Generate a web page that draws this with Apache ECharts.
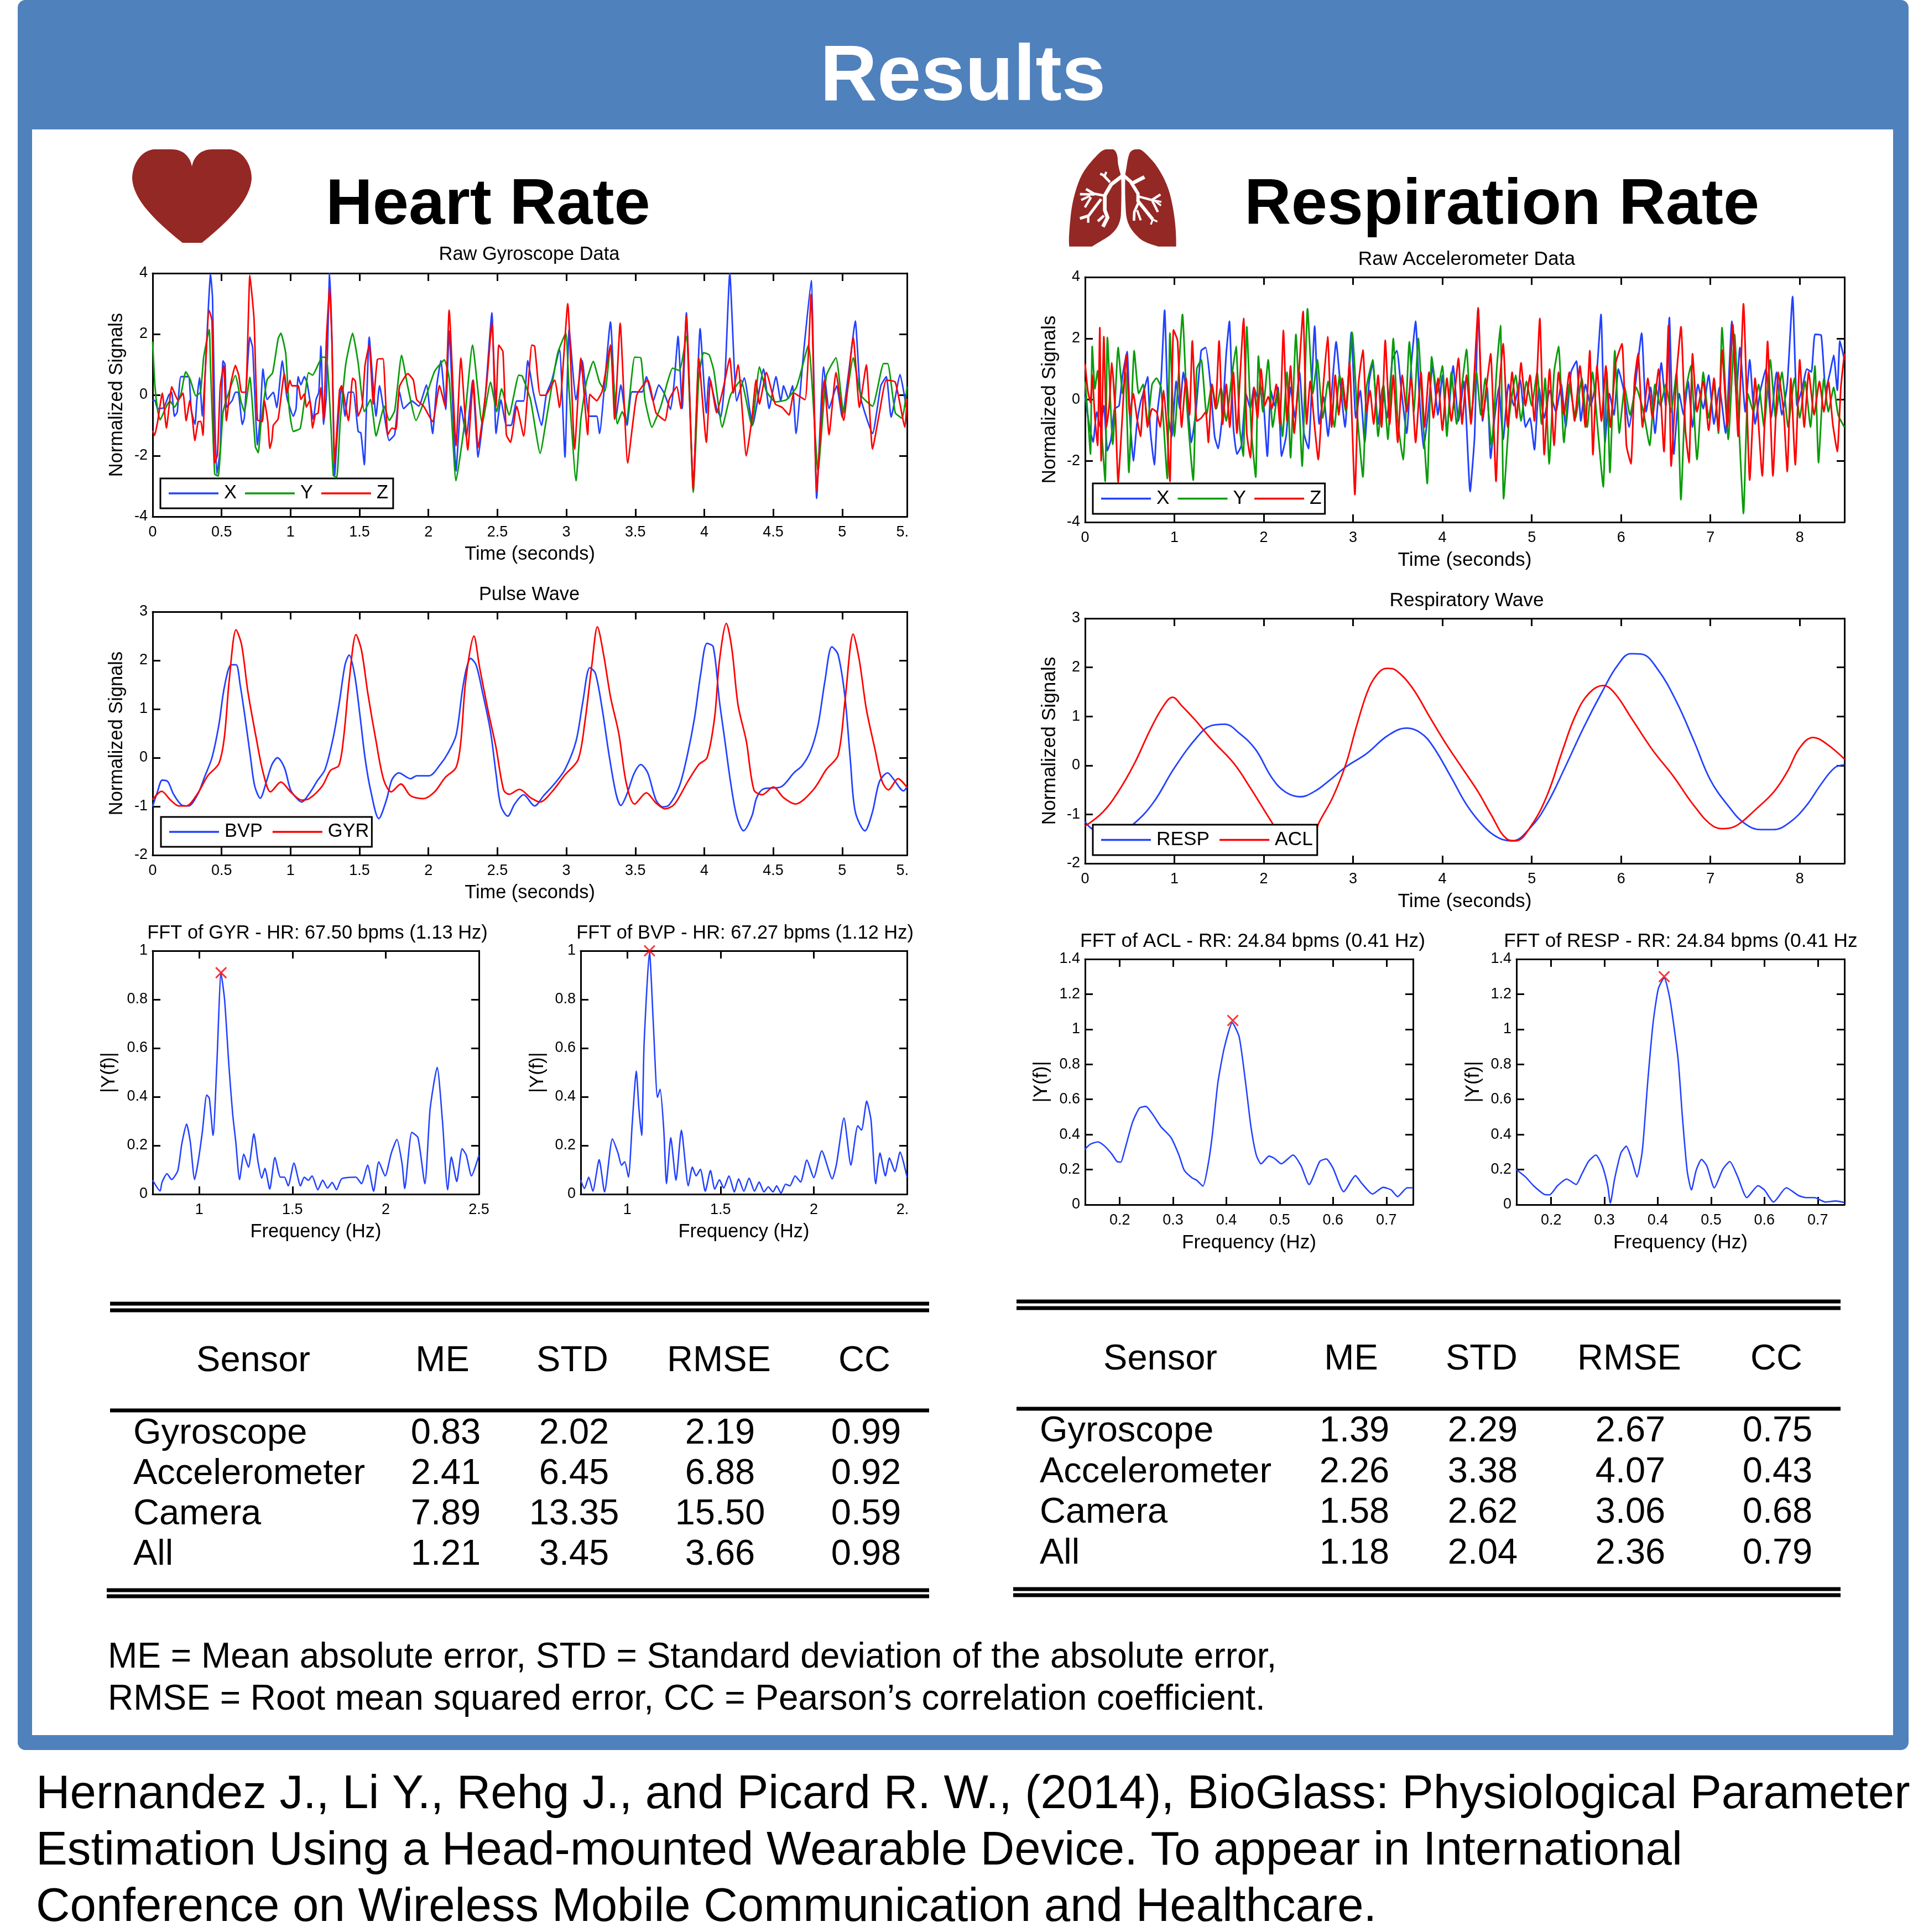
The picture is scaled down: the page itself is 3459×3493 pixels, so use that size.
<!DOCTYPE html>
<html><head><meta charset="utf-8">
<style>html,body{margin:0;padding:0;background:#fff}#c{width:3459px;height:3493px}</style>
<script src="https://cdn.jsdelivr.net/npm/echarts@6/dist/echarts.min.js"></script>
</head><body><div id="c"></div>
<script>
const gyroX=[[0,-.18],[.016,-.18],[.036,-.45],[.08,-.42],[.118,0],[.138,.09],[.158,-.7],[.178,-.57],[.205,.6],[.26,.6],[.28,-.5],[.307,-.97],[.32,-.2],[.34,.57],[.36,-.7],[.38,.63],[.42,3.97],[.434,3.2],[.45,-.57],[.465,-2.6],[.49,-1.8],[.51,1.12],[.525,1],[.537,-.4],[.577,-.18],[.6,.09],[.62,.09],[.65,-.97],[.665,-.75],[.705,1.9],[.725,1.55],[.76,-1.65],[.78,-.75],[.8,.85],[.83,-.15],[.875,.09],[.9,-.42],[.94,1.12],[.97,.03],[.98,-.2],[1.02,-.7],[1.04,-.45],[1.055,.6],[1.075,.33],[1.1,.6],[1.12,.4],[1.165,-.8],[1.185,-.15],[1.205,.09],[1.22,1.6],[1.24,-.97],[1.26,.03],[1.283,4],[1.3,1.85],[1.32,-2.65],[1.34,-1.2],[1.37,.3],[1.395,-.7],[1.42,.09],[1.455,.09],[1.49,-1.2],[1.51,-1.25],[1.535,-2.3],[1.55,-.5],[1.57,1.9],[1.62,-.7],[1.645,.3],[1.715,-1.5],[1.755,-1.3],[1.79,.1],[1.82,-.45],[1.88,-.2],[1.93,-.37],[1.985,.33],[2.03,-1.27],[2.06,.3],[2.09,1.13],[2.125,-.48],[2.15,2.1],[2.2,-2.5],[2.235,-.37],[2.275,-1.38],[2.32,.48],[2.36,-2.05],[2.41,-.16],[2.46,2.7],[2.49,-1.27],[2.525,-.16],[2.565,-1],[2.6,-1],[2.64,-.2],[2.69,-.2],[2.72,1.13],[2.76,.1],[2.82,-1],[2.855,.02],[2.895,.48],[2.95,1.5],[2.99,-2.05],[3.02,2.15],[3.07,-.16],[3.115,1.13],[3.165,-.7],[3.22,-.7],[3.24,-1.27],[3.32,2.4],[3.36,-.73],[3.395,.33],[3.44,-1],[3.475,.1],[3.55,.1],[3.58,.6],[3.63,-.2],[3.67,.33],[3.71,.05],[3.755,-.48],[3.78,.33],[3.81,1.93],[3.84,-.45],[3.87,2.7],[3.92,-3],[3.97,2.18],[4.015,-.6],[4.035,.6],[4.09,-.45],[4.12,-.73],[4.15,.56],[4.185,4],[4.235,-.2],[4.29,.56],[4.33,-.5],[4.35,-1],[4.43,.85],[4.47,-.45],[4.52,.6],[4.555,-.2],[4.575,.3],[4.61,-.12],[4.64,.3],[4.665,-1.27],[4.72,1.39],[4.775,3.76],[4.815,-3.4],[4.865,.92],[4.905,-.45],[4.96,.3],[5,-.73],[5.05,.85],[5.095,2.43],[5.135,-.1],[5.22,-1.27],[5.28,.3],[5.32,.6],[5.355,-.73],[5.42,.67],[5.465,-.41]];
const gyroY=[[0,1.75],[.016,.33],[.036,-.5],[.054,-.82],[.097,-.4],[.125,-.2],[.158,-.4],[.205,.03],[.24,.76],[.273,.5],[.313,-.03],[.347,.09],[.37,1.24],[.41,2.15],[.42,.88],[.45,-2.6],[.475,-2.67],[.51,-.58],[.537,-.12],[.6,.64],[.64,-.2],[.665,-.55],[.705,.58],[.745,-1.7],[.766,-1.9],[.785,-.95],[.83,.5],[.87,.73],[.91,1.85],[.93,2.03],[.965,1.36],[.99,-.45],[1.02,-1.2],[1.07,-1.1],[1.1,-.2],[1.13,.73],[1.16,.65],[1.23,1.24],[1.26,1.24],[1.295,-1.2],[1.31,-2.65],[1.335,-2.7],[1.36,-.88],[1.4,1],[1.45,2.03],[1.49,1.06],[1.535,-.55],[1.58,-.15],[1.62,-1.35],[1.68,-.37],[1.715,-.84],[1.755,-.52],[1.805,1.3],[1.85,.27],[1.91,-.84],[1.985,-.01],[2.045,.78],[2.115,1.15],[2.15,.56],[2.2,-2.82],[2.255,-1.17],[2.32,1.64],[2.39,-.95],[2.45,.42],[2.495,-.55],[2.53,.2],[2.585,-.66],[2.655,.65],[2.68,.62],[2.74,-.16],[2.81,-1.92],[2.855,-.8],[2.915,.85],[2.94,1.42],[2.995,2.03],[3.02,.13],[3.07,-2.82],[3.105,-.8],[3.145,.42],[3.195,1.1],[3.24,.42],[3.28,.13],[3.32,1.64],[3.37,-.95],[3.405,-.55],[3.435,-.88],[3.495,1.24],[3.54,1.22],[3.57,-.16],[3.62,-1.06],[3.685,-.37],[3.735,.45],[3.77,.88],[3.82,.8],[3.87,1.93],[3.92,-3.2],[3.96,.56],[3.995,1.39],[4.035,1.32],[4.07,.78],[4.13,-1.06],[4.19,-.01],[4.265,.49],[4.345,-1.02],[4.4,.92],[4.45,.13],[4.515,-.23],[4.595,-.16],[4.67,.27],[4.755,1.64],[4.825,-2.5],[4.885,.63],[4.955,1.22],[5.01,-.59],[5.08,1.22],[5.135,-.01],[5.22,-.37],[5.3,1.03],[5.33,1.03],[5.385,-.59],[5.435,-.77],[5.47,.27]];
const gyroZ=[[0,-1.18],[.014,-1.33],[.036,-.88],[.07,.06],[.1,-1.09],[.138,.27],[.15,.15],[.185,-.18],[.22,.06],[.243,-.85],[.27,-.18],[.288,-.76],[.306,-1.5],[.33,-.88],[.35,-.87],[.365,-1.33],[.38,.63],[.41,2.78],[.43,2.45],[.45,-2.24],[.47,-1.97],[.49,.27],[.515,.97],[.535,-.85],[.565,.33],[.6,.97],[.625,.63],[.645,.09],[.675,.09],[.705,3.93],[.735,2.5],[.76,-.82],[.795,-.88],[.81,-.18],[.835,-.88],[.85,-1.76],[.865,-1.48],[.875,-1],[.91,-.79],[.955,.7],[.975,.06],[.995,.48],[1.01,.3],[1.055,.3],[1.075,-.15],[1.1,.03],[1.115,-.4],[1.14,-.18],[1.16,-1.09],[1.18,-.64],[1.2,-.6],[1.22,.24],[1.24,-.82],[1.26,1.85],[1.283,3.5],[1.3,1.73],[1.32,-2.2],[1.355,.15],[1.37,.3],[1.42,-.85],[1.45,.55],[1.47,.45],[1.49,-.7],[1.52,-.33],[1.54,.97],[1.57,1.64],[1.6,-.3],[1.63,1.17],[1.67,1.19],[1.705,-1.31],[1.735,-1.09],[1.765,-1.13],[1.79,.27],[1.85,.7],[1.89,.49],[1.915,-.16],[1.965,-.37],[2.03,-.88],[2.08,.31],[2.12,-.37],[2.15,2.79],[2.2,-1.67],[2.235,1.21],[2.285,-1.81],[2.325,.49],[2.36,-1.74],[2.42,.27],[2.46,2.36],[2.49,-.37],[2.51,1.64],[2.54,1.42],[2.565,-1.31],[2.595,-1.56],[2.64,-.37],[2.69,-1.35],[2.75,1.64],[2.77,1.6],[2.81,-.01],[2.85,-.01],[2.915,.49],[2.95,-.41],[3.01,3],[3.06,-1.78],[3.105,1.21],[3.155,-1.31],[3.17,.02],[3.22,-.19],[3.26,.13],[3.32,1.64],[3.35,-.8],[3.39,2.36],[3.445,-2.24],[3.51,-.01],[3.59,.49],[3.65,-.59],[3.715,-.84],[3.745,-.16],[3.8,.27],[3.83,-.45],[3.87,2.58],[3.92,-3.1],[3.96,1.21],[4.015,-1.56],[4.045,.49],[4.09,-.59],[4.14,.27],[4.185,1.21],[4.21,.06],[4.245,.99],[4.305,-2],[4.345,-.8],[4.375,.49],[4.4,-.3],[4.45,.74],[4.515,-.3],[4.565,-.41],[4.615,-.66],[4.65,.06],[4.73,-.16],[4.775,3.3],[4.815,-3.14],[4.87,.49],[4.905,-1.31],[4.955,.74],[5.01,-.84],[5.08,1.89],[5.125,-.41],[5.175,.99],[5.22,-1.78],[5.27,-.59],[5.32,.49],[5.385,.42],[5.455,-1.06],[5.47,-.12]];
const pulseBVP=[[0,-1],[.035,-.7],[.07,-.46],[.11,-.49],[.15,-.74],[.21,-.97],[.26,-.99],[.325,-.76],[.38,-.37],[.43,0],[.48,.67],[.52,1.45],[.57,1.91],[.605,1.91],[.635,1.49],[.67,.83],[.71,0],[.74,-.58],[.78,-.83],[.825,-.49],[.865,-.14],[.905,0],[.955,-.2],[1,-.66],[1.04,-.82],[1.08,-.91],[1.135,-.74],[1.195,-.47],[1.25,-.24],[1.31,.42],[1.355,1.16],[1.395,1.91],[1.425,2.11],[1.465,1.7],[1.505,.83],[1.54,0],[1.58,-.66],[1.64,-1.25],[1.695,-.87],[1.735,-.45],[1.785,-.31],[1.87,-.43],[1.915,-.37],[2.005,-.37],[2.085,-.14],[2.14,.09],[2.2,.46],[2.245,1.37],[2.275,1.83],[2.305,2.04],[2.345,1.91],[2.39,1.37],[2.45,.54],[2.49,-.33],[2.525,-.99],[2.575,-1.2],[2.625,-.95],[2.69,-.76],[2.77,-.99],[2.835,-.78],[2.915,-.53],[2.99,-.24],[3.07,.34],[3.12,1.16],[3.17,1.85],[3.21,1.74],[3.26,1],[3.31,.05],[3.36,-.74],[3.395,-.98],[3.44,-.74],[3.49,-.33],[3.54,-.14],[3.59,-.31],[3.65,-.87],[3.7,-1.01],[3.745,-.97],[3.82,-.58],[3.88,.09],[3.93,.83],[3.975,1.74],[4.02,2.35],[4.065,2.28],[4.11,1.16],[4.15,.34],[4.19,-.49],[4.235,-1.2],[4.285,-1.5],[4.345,-1.2],[4.38,-.82],[4.43,-.64],[4.555,-.6],[4.65,-.31],[4.71,-.16],[4.77,.13],[4.825,.67],[4.875,1.58],[4.925,2.28],[4.97,2.12],[5.02,1.25],[5.06,-.08],[5.095,-1.11],[5.165,-1.5],[5.22,-1.11],[5.27,-.49],[5.33,-.31],[5.37,-.43],[5.445,-.68],[5.47,-.6]];
const pulseGYR=[[0,-.86],[.065,-.69],[.13,-.87],[.19,-.99],[.245,-.99],[.325,-.74],[.4,-.37],[.48,-.12],[.52,.42],[.555,1.58],[.605,2.63],[.645,2.32],[.69,1.37],[.75,.42],[.8,-.29],[.855,-.7],[.93,-.5],[1,-.7],[1.08,-.87],[1.135,-.84],[1.23,-.58],[1.29,-.26],[1.35,-.16],[1.385,.42],[1.425,1.58],[1.475,2.53],[1.515,2.2],[1.56,1.33],[1.62,.34],[1.675,-.45],[1.73,-.7],[1.8,-.54],[1.87,-.78],[1.965,-.84],[2.045,-.7],[2.12,-.41],[2.2,-.2],[2.235,.34],[2.27,1.58],[2.33,2.5],[2.37,1.87],[2.43,1],[2.49,.21],[2.545,-.66],[2.585,-.75],[2.66,-.65],[2.74,-.82],[2.81,-.91],[2.895,-.7],[2.99,-.35],[3.085,-.04],[3.135,.75],[3.185,1.91],[3.225,2.69],[3.27,2.12],[3.32,1.25],[3.38,.5],[3.435,-.53],[3.495,-.95],[3.58,-.72],[3.65,-.93],[3.715,-1.05],[3.785,-.95],[3.88,-.49],[3.96,-.14],[4.02,0],[4.075,.83],[4.11,1.99],[4.16,2.76],[4.2,2.24],[4.245,1.08],[4.305,.34],[4.36,-.66],[4.42,-.76],[4.5,-.6],[4.575,-.82],[4.66,-.95],[4.79,-.66],[4.885,-.24],[4.97,.05],[5.02,1.16],[5.08,2.54],[5.125,1.99],[5.175,1],[5.235,.21],[5.29,-.49],[5.335,-.66],[5.405,-.43],[5.47,-.61]];
const accelX=[[0,.1],[.05,-.9],[.09,-1.39],[.13,-.4],[.17,-.9],[.21,-.2],[.25,-1.67],[.29,-1.3],[.33,-.3],[.38,-.2],[.42,.8],[.47,1.57],[.5,-.5],[.54,-2],[.58,-.8],[.62,-.1],[.66,.3],[.7,.75],[.73,-1],[.775,-2.13],[.81,-.4],[.85,.6],[.89,2.92],[.93,-.5],[.97,-1.2],[1.02,.6],[1.06,-.3],[1.1,.9],[1.14,.1],[1.19,-1.4],[1.24,-.4],[1.3,1.6],[1.35,1.7],[1.4,.6],[1.45,-1.2],[1.49,-1.6],[1.54,-.4],[1.58,1.5],[1.615,2.56],[1.66,-.9],[1.7,-1.78],[1.75,-1.5],[1.8,.2],[1.85,-.3],[1.89,.4],[1.93,.05],[1.98,.4],[2.04,-1.85],[2.08,.3],[2.12,-.2],[2.16,.4],[2.2,-1.85],[2.25,-1.2],[2.3,.4],[2.35,-.6],[2.4,.9],[2.45,-1.1],[2.5,-1.6],[2.57,2.4],[2.62,-.8],[2.67,.1],[2.72,-1.2],[2.77,.6],[2.81,1.89],[2.86,.4],[2.91,-.9],[2.98,2.2],[3.03,-.6],[3.08,.3],[3.13,-1.4],[3.18,.6],[3.22,1.2],[3.28,-.8],[3.33,.4],[3.38,-.6],[3.44,1.3],[3.49,1.6],[3.54,.3],[3.6,-1.1],[3.65,1.1],[3.7,2.56],[3.74,.2],[3.79,-1.6],[3.84,-.4],[3.89,1.1],[3.95,-.5],[4,.8],[4.05,-1],[4.12,1.1],[4.18,-.7],[4.24,.6],[4.31,-3],[4.36,-1.2],[4.4,2.99],[4.45,-.7],[4.5,.4],[4.54,-1.92],[4.58,-.7],[4.63,.4],[4.68,-1.3],[4.74,.5],[4.8,-.2],[4.87,.65],[4.93,-.9],[4.98,-.6],[5.03,-1.64],[5.08,.4],[5.14,-.6],[5.2,.3],[5.27,-.4],[5.33,.5],[5.38,-.9],[5.44,.9],[5.5,1.26],[5.55,-.7],[5.6,.5],[5.66,-.2],[5.72,.6],[5.775,2.78],[5.82,-1.4],[5.87,.2],[5.92,-.5],[5.97,1],[6.03,.3],[6.09,-.9],[6.16,.5],[6.23,2.17],[6.28,-.4],[6.33,.4],[6.38,-1.1],[6.45,1.2],[6.5,-.2],[6.54,2.68],[6.59,-1.78],[6.65,.2],[6.7,-.5],[6.75,.6],[6.8,-.9],[6.86,.5],[6.92,-.3],[6.98,.8],[7.04,-.8],[7.1,.4],[7.17,-1.1],[7.24,2.56],[7.29,.2],[7.33,1.7],[7.39,-.4],[7.44,1.3],[7.5,-.8],[7.56,.3],[7.62,1],[7.68,-.6],[7.74,.9],[7.8,-.5],[7.86,.5],[7.92,3.37],[7.97,-.2],[8.03,.4],[8.08,1],[8.13,.9],[8.17,2.13],[8.24,2.1],[8.29,.3],[8.34,.9],[8.38,1.45],[8.42,.3],[8.45,1.92],[8.5,1.3]];
const accelY=[[0,.6],[.03,-.5],[.06,-1.78],[.08,1.74],[.11,.35],[.14,.95],[.18,-.8],[.225,-2.67],[.25,2.03],[.31,-1.46],[.37,1.7],[.42,.2],[.45,.9],[.49,-2.38],[.55,1.6],[.6,.2],[.65,.5],[.7,-.8],[.75,.5],[.8,.7],[.85,.4],[.92,-2.58],[.95,2.17],[1,-1.2],[1.04,.5],[1.09,2.78],[1.14,-.2],[1.21,-2.63],[1.25,1],[1.3,1.3],[1.36,-.5],[1.42,.5],[1.47,-.3],[1.52,.4],[1.58,-.7],[1.64,.7],[1.69,1.74],[1.73,-.9],[1.77,-1.85],[1.81,2.38],[1.86,-1],[1.91,-2.53],[1.94,1.42],[1.99,-.4],[2.05,1.3],[2.1,-.9],[2.16,.3],[2.21,-1.2],[2.26,.9],[2.3,-1.9],[2.36,2.13],[2.43,-2.17],[2.49,2.97],[2.55,.2],[2.6,1.3],[2.66,-.6],[2.72,.6],[2.79,-.9],[2.85,.8],[2.92,-.4],[2.99,2.2],[3.05,-.6],[3.11,-2.53],[3.15,.4],[3.22,1.3],[3.28,-1.2],[3.34,.5],[3.39,-1.3],[3.45,2],[3.5,-.7],[3.56,-1.97],[3.63,1.89],[3.68,-.4],[3.73,2],[3.78,-.5],[3.83,-2.74],[3.88,1.4],[3.94,.2],[4,1.1],[4.05,-1.2],[4.1,.9],[4.16,-.8],[4.22,.5],[4.27,1.64],[4.32,-.6],[4.38,.9],[4.43,-.5],[4.48,.7],[4.55,-1.5],[4.61,1.1],[4.65,2.42],[4.685,-3.24],[4.75,-.5],[4.82,.8],[4.88,-.7],[4.94,.6],[5,-.2],[5.06,.9],[5.11,-.8],[5.15,.7],[5.195,-2.1],[5.25,.9],[5.3,1.74],[5.36,-1.4],[5.42,.5],[5.49,-.6],[5.56,.7],[5.62,-.9],[5.68,.9],[5.74,-1],[5.8,-2.85],[5.84,.9],[5.875,-2.38],[5.93,1.6],[5.98,-1.1],[6.04,.4],[6.1,-.5],[6.17,.4],[6.25,-.4],[6.32,-1.5],[6.38,.5],[6.44,-.2],[6.5,.5],[6.56,-.4],[6.62,.9],[6.67,-3.27],[6.72,.2],[6.78,1.1],[6.85,-1.96],[6.92,.9],[6.98,-.6],[7.04,.5],[7.09,-1.1],[7.13,2.35],[7.2,-1.3],[7.27,2.13],[7.32,-.9],[7.37,-3.72],[7.42,.2],[7.48,-.4],[7.54,.5],[7.6,-.9],[7.67,1.3],[7.73,-.6],[7.8,.9],[7.87,-.9],[7.94,.7],[8,-.6],[8.06,.6],[8.12,-.9],[8.17,1.1],[8.21,-2.06],[8.27,.7],[8.32,-.4],[8.38,.4],[8.43,-.5],[8.5,-.9]];
const accelZ=[[0,1.17],[.03,.3],[.06,-.1],[.08,.8],[.11,-.6],[.14,-1.5],[.165,2.35],[.18,-2],[.21,2.06],[.24,-.9],[.27,-.2],[.3,1.2],[.34,-.5],[.37,-2.7],[.41,-.9],[.46,1.46],[.5,-.5],[.54,.2],[.58,-.6],[.62,-1.2],[.66,.35],[.7,-.9],[.75,-.3],[.8,-.4],[.84,-.9],[.88,.3],[.92,-1.1],[.95,-2.67],[.99,2.28],[1.035,1.92],[1.08,-.9],[1.13,.7],[1.17,-.5],[1.2,1.92],[1.25,-.7],[1.3,-.6],[1.35,-.4],[1.38,-1.4],[1.42,.5],[1.46,-.3],[1.5,1.92],[1.54,-.8],[1.58,.5],[1.62,-.9],[1.66,.9],[1.7,-1.1],[1.73,.5],[1.765,2.31],[1.775,2.65],[1.81,-1.1],[1.85,-1.9],[1.89,.4],[1.93,-.6],[1.97,1],[2.01,-.2],[2.05,.1],[2.09,-.3],[2.14,.5],[2.18,-.8],[2.22,2.26],[2.26,-.7],[2.3,1.1],[2.34,-1.1],[2.39,.7],[2.44,2.88],[2.48,-.8],[2.52,.6],[2.57,-.9],[2.61,-1.96],[2.66,.2],[2.715,2.06],[2.76,-.9],[2.8,.8],[2.84,-.5],[2.88,.7],[2.92,-.3],[2.96,1.2],[3.02,-3.1],[3.06,.5],[3.11,1.62],[3.15,-.4],[3.19,.3],[3.23,-.8],[3.28,.8],[3.32,-.9],[3.36,1.94],[3.41,-.8],[3.45,.8],[3.5,-1.4],[3.55,.8],[3.6,-.4],[3.65,.7],[3.7,-1.4],[3.76,.9],[3.8,-.9],[3.85,.9],[3.9,-.6],[3.95,.7],[4,-1],[4.05,.7],[4.1,-.7],[4.18,1.35],[4.22,-.8],[4.27,.8],[4.32,-.8],[4.36,1],[4.4,3],[4.45,-.6],[4.5,.6],[4.54,1.5],[4.6,-2.67],[4.64,.5],[4.68,1.83],[4.73,-.9],[4.78,.9],[4.83,-.6],[4.88,1.2],[4.93,-.2],[4.98,.8],[5.03,-.7],[5.09,2.65],[5.14,-1.8],[5.2,1],[5.25,-1.5],[5.3,.9],[5.36,-.5],[5.42,.9],[5.48,-.7],[5.54,1.1],[5.6,-.9],[5.65,1.6],[5.685,-1.8],[5.73,1.1],[5.78,-.7],[5.83,1.1],[5.88,-.9],[5.94,1.2],[6.01,1.83],[6.06,-1.5],[6.11,-2.1],[6.15,.6],[6.19,1.51],[6.24,-.9],[6.3,.7],[6.35,-.6],[6.42,1],[6.48,-1.7],[6.53,2.42],[6.56,-2.17],[6.62,.8],[6.67,2.38],[6.72,-1],[6.76,-2.06],[6.8,1.5],[6.85,-.4],[6.92,.6],[6.98,-1],[7.04,.7],[7.09,-1],[7.13,1.62],[7.19,-.9],[7.25,2.45],[7.31,-1.2],[7.37,3.13],[7.44,-2.63],[7.5,.7],[7.58,-2.49],[7.64,1.9],[7.7,-2.49],[7.76,.9],[7.82,-.4],[7.86,-2.35],[7.9,.7],[7.95,-2.13],[8,1.3],[8.05,-.9],[8.1,.9],[8.16,-.5],[8.22,.6],[8.27,-.4],[8.32,.6],[8.37,-.8],[8.42,-1.7],[8.46,.4],[8.5,1.5]];
const respRESP=[[0,-1.15],[.08,-1.3],[.3,-1.5],[.54,-1.2],[.76,-.77],[1,-.05],[1.26,.59],[1.41,.81],[1.56,.84],[1.73,.65],[1.91,.32],[2.09,-.25],[2.24,-.54],[2.41,-.64],[2.56,-.54],[2.74,-.3],[2.92,-.03],[3.15,.24],[3.39,.61],[3.6,.76],[3.75,.67],[3.89,.4],[4.1,-.25],[4.28,-.83],[4.46,-1.24],[4.63,-1.48],[4.78,-1.54],[4.99,-1.26],[5.17,-.79],[5.37,-.05],[5.58,.77],[5.79,1.51],[5.96,2.04],[6.11,2.28],[6.23,2.27],[6.41,1.96],[6.62,1.3],[6.82,.48],[7,-.3],[7.21,-.85],[7.38,-1.18],[7.56,-1.31],[7.71,-1.31],[7.89,-1.16],[8.07,-.83],[8.24,-.38],[8.39,-.05],[8.5,.01]];
const respACL=[[0,-1.24],[.2,-.95],[.37,-.54],[.55,.03],[.73,.73],[.88,1.22],[.98,1.39],[1.08,1.22],[1.23,.93],[1.44,.48],[1.67,.03],[1.85,-.46],[2.09,-1.16],[2.27,-1.65],[2.5,-1.65],[2.62,-1.16],[2.77,-.66],[2.92,.03],[3.04,.81],[3.18,1.59],[3.3,1.92],[3.39,1.98],[3.48,1.94],[3.66,1.59],[3.86,.98],[4.04,.44],[4.22,-.05],[4.4,-.54],[4.54,-.99],[4.72,-1.5],[4.82,-1.54],[4.99,-1.24],[5.17,-.62],[5.34,.28],[5.49,1.02],[5.64,1.47],[5.8,1.63],[5.93,1.47],[6.11,.98],[6.35,.32],[6.58,-.21],[6.82,-.83],[7.03,-1.24],[7.16,-1.29],[7.3,-1.22],[7.5,-.91],[7.71,-.54],[7.86,-.13],[8,.36],[8.15,.57],[8.3,.44],[8.5,.13]];
const fftGYR=[[.75,.057],[.79,.013],[.8,.048],[.827,.084],[.852,.06],[.885,.097],[.906,.205],[.932,.288],[.952,.214],[.975,.06],[.994,.133],[1.017,.259],[1.04,.407],[1.054,.394],[1.074,.241],[1.094,.528],[1.117,.906],[1.136,.798],[1.159,.528],[1.179,.331],[1.196,.214],[1.216,.06],[1.239,.164],[1.264,.111],[1.293,.248],[1.315,.133],[1.335,.066],[1.352,.106],[1.378,.021],[1.406,.151],[1.435,.07],[1.457,.07],[1.477,.034],[1.508,.128],[1.543,.034],[1.563,.07],[1.585,.057],[1.605,.075],[1.636,.018],[1.662,.057],[1.688,.025],[1.713,.048],[1.736,.018],[1.764,.063],[1.84,.07],[1.87,.043],[1.903,.119],[1.935,.012],[1.963,.133],[1.997,.075],[2.03,.169],[2.06,.225],[2.088,.124],[2.102,.023],[2.14,.254],[2.173,.232],[2.21,.043],[2.238,.349],[2.276,.521],[2.304,.304],[2.332,.018],[2.352,.153],[2.381,.052],[2.41,.187],[2.432,.16],[2.46,.075],[2.5,.16]];
const fftBVP=[[.75,.057],[.77,.023],[.793,.07],[.815,.012],[.849,.142],[.878,.009],[.92,.227],[.95,.169],[.969,.119],[.986,.133],[1.006,.07],[1.026,.286],[1.048,.506],[1.0625,.349],[1.077,.241],[1.09,.618],[1.119,.995],[1.139,.708],[1.162,.398],[1.176,.431],[1.196,.259],[1.21,.043],[1.233,.232],[1.261,.057],[1.29,.263],[1.327,.034],[1.349,.111],[1.369,.075],[1.392,.102],[1.418,.012],[1.446,.097],[1.469,.021],[1.494,.059],[1.517,.025],[1.545,.075],[1.574,.009],[1.597,.063],[1.625,.012],[1.653,.066],[1.682,.012],[1.707,.05],[1.733,.009],[1.756,.03],[1.781,.009],[1.801,.034],[1.824,.004],[1.849,.041],[1.872,.034],[1.9,.075],[1.929,.05],[1.963,.14],[2,.068],[2.043,.178],[2.099,.063],[2.122,.124],[2.162,.313],[2.199,.119],[2.236,.281],[2.256,.263],[2.284,.382],[2.307,.304],[2.332,.043],[2.355,.169],[2.384,.075],[2.406,.149],[2.435,.093],[2.463,.173],[2.5,.07]];
const fftACL=[[.134,.314],[.145,.345],[.159,.358],[.172,.333],[.185,.289],[.195,.246],[.202,.243],[.209,.308],[.224,.47],[.237,.551],[.249,.56],[.262,.514],[.277,.445],[.296,.383],[.311,.283],[.321,.196],[.336,.152],[.344,.14],[.356,.106],[.366,.233],[.374,.408],[.384,.695],[.396,.894],[.411,1.037],[.424,.956],[.436,.695],[.446,.445],[.456,.283],[.465,.233],[.48,.277],[.49,.264],[.503,.233],[.525,.283],[.54,.221],[.555,.115],[.575,.246],[.587,.261],[.6,.208],[.62,.074],[.642,.165],[.654,.121],[.674,.061],[.694,.099],[.709,.084],[.721,.046],[.739,.096],[.75,.096]];
const fftRESP=[[.134,.202],[.152,.158],[.167,.108],[.187,.059],[.197,.056],[.212,.108],[.229,.146],[.247,.115],[.257,.171],[.27,.246],[.284,.283],[.296,.221],[.306,.108],[.311,.009],[.319,.146],[.331,.296],[.341,.333],[.351,.258],[.361,.158],[.371,.308],[.381,.695],[.391,1.031],[.401,1.231],[.412,1.293],[.423,1.168],[.438,.832],[.446,.507],[.455,.196],[.463,.084],[.472,.196],[.482,.258],[.492,.221],[.506,.096],[.522,.202],[.535,.246],[.55,.158],[.567,.04],[.588,.108],[.6,.084],[.617,.015],[.641,.096],[.664,.052],[.679,.04],[.694,.04],[.714,.015],[.734,.021],[.75,.012]];
const peakGYR=[1.117,.91],peakBVP=[1.119,1],peakACL=[.412,1.05],peakRESP=[.412,1.3];
const tickHalf=[0,.5,1,1.5,2,2.5,3,3.5,4,4.5,5];
const tickWhole=[0,1,2,3,4,5,6,7,8];
const tickFreqHR=[1,1.5,2,2.5];
const tickFreqRR=[.2,.3,.4,.5,.6,.7];
const sensors=['Gyroscope','Accelerometer','Camera','All'];
const headers=['Sensor','ME','STD','RMSE','CC'];
const hrRows=[['0.83','2.02','2.19','0.99'],['2.41','6.45','6.88','0.92'],['7.89','13.35','15.50','0.59'],['1.21','3.45','3.66','0.98']];
const rrRows=[['1.39','2.29','2.67','0.75'],['2.26','3.38','4.07','0.43'],['1.58','2.62','3.06','0.68'],['1.18','2.04','2.36','0.79']];
const footnotes=['ME = Mean absolute error, STD = Standard deviation of the absolute error,','RMSE = Root mean squared error, CC = Pearson\u2019s correlation coefficient.'];
const citation=['Hernandez J., Li Y., Rehg J., and Picard R. W., (2014), BioGlass: Physiological Parameter','Estimation Using a Head-mounted Wearable Device. To appear in International','Conference on Wireless Mobile Communication and Healthcare.'];

const FONT='"Liberation Sans", Arial, sans-serif';
const BLUE='#2342ff',GREEN='#0a9c0a',RED='#ff0000',BAND='#4f81bd',ORGAN='#942825';
const SL=34.4,SR=35.3;
const panels=[
 {title:'Raw Gyroscope Data',tx:957,ty:461,fs:SL,L:276,R:1640,T:494,B:934,xmin:0,xmax:5.47,xstep:tickHalf,clip:[5.437,'5.'],ymin:-4,ymax:4,yint:2,xname:'Time (seconds)',yname:'Normalized Signals',nameY:47,lw:2.8,
  lines:[['X',gyroX,BLUE],['Y',gyroY,GREEN],['Z',gyroZ,RED]],smooth:.15,legend:{left:290,top:865,gap:15,pr:9}},
 {title:'Pulse Wave',tx:957,ty:1076,fs:SL,L:276,R:1640,T:1106,B:1546,xmin:0,xmax:5.47,xstep:tickHalf,clip:[5.437,'5.'],ymin:-2,ymax:3,yint:1,xname:'Time (seconds)',yname:'Normalized Signals',nameY:47,lw:2.8,
  lines:[['BVP',pulseBVP,BLUE],['GYR',pulseGYR,RED]],smooth:.3,legend:{left:291,top:1477,gap:18,pr:5}},
 {title:'Raw Accelerometer Data',tx:2652,ty:469,fs:SR,L:1962,R:3335,T:501,B:944,xmin:0,xmax:8.5,xstep:tickWhole,ymin:-4,ymax:4,yint:2,xname:'Time (seconds)',yname:'Normalized Signals',nameY:46,lw:3,
  lines:[['X',accelX,BLUE],['Y',accelY,GREEN],['Z',accelZ,RED]],smooth:.15,legend:{left:1976,top:874,gap:15,pr:6}},
 {title:'Respiratory Wave',tx:2652,ty:1086,fs:SR,L:1962,R:3335,T:1118,B:1561,xmin:0,xmax:8.5,xstep:tickWhole,ymin:-2,ymax:3,yint:1,xname:'Time (seconds)',yname:'Normalized Signals',nameY:46,lw:2.8,
  lines:[['RESP',respRESP,BLUE],['ACL',respACL,RED]],smooth:.4,legend:{left:1976,top:1491,gap:18,pr:8}},
 {title:'FFT of GYR - HR: 67.50 bpms (1.13 Hz)',tx:574,ty:1688,fs:SL,L:276,R:866,T:1719,B:2159,xmin:.75,xmax:2.5,xstep:tickFreqHR,ymin:0,ymax:1,yint:.2,xname:'Frequency (Hz)',yname:'|Y(f)|',nameY:61,lw:2.6,
  lines:[['FFT GYR',fftGYR,BLUE]],smooth:.2,peak:peakGYR},
 {title:'FFT of BVP - HR: 67.27 bpms (1.12 Hz)',tx:1347,ty:1688,fs:SL,L:1050,R:1640,T:1719,B:2159,xmin:.75,xmax:2.5,xstep:[1,1.5,2],clip:[2.476,'2.'],ymin:0,ymax:1,yint:.2,xname:'Frequency (Hz)',yname:'|Y(f)|',nameY:60,lw:2.6,
  lines:[['FFT BVP',fftBVP,BLUE]],smooth:.2,peak:peakBVP},
 {title:'FFT of ACL - RR: 24.84 bpms (0.41 Hz)',tx:2265,ty:1702,fs:SR,L:1962,R:2555,T:1734,B:2178,xmin:.135,xmax:.75,xstep:tickFreqRR,ymin:0,ymax:1.4,yint:.2,xname:'Frequency (Hz)',yname:'|Y(f)|',nameY:61,lw:2.6,
  lines:[['FFT ACL',fftACL,BLUE]],smooth:.2,peak:peakACL},
 {title:'FFT of RESP - RR: 24.84 bpms (0.41 Hz',tx:3039,ty:1702,fs:SR,L:2742,R:3335,T:1734,B:2178,xmin:.135,xmax:.75,xstep:tickFreqRR,ymin:0,ymax:1.4,yint:.2,xname:'Frequency (Hz)',yname:'|Y(f)|',nameY:60,lw:2.6,
  lines:[['FFT RESP',fftRESP,BLUE]],smooth:.2,peak:peakRESP}
];
const axisLine={show:true,onZero:false,lineStyle:{color:'#000',width:3}};
const grid=[],xAxis=[],yAxis=[],series=[],title=[],legend=[];
panels.forEach((p,i)=>{
 grid.push({left:p.L,top:p.T,width:p.R-p.L,height:p.B-p.T,containLabel:false,outerBoundsMode:'none'});
 title.push({text:p.title,left:p.tx,top:p.ty-17,textAlign:'center',padding:0,textStyle:{fontFamily:FONT,fontSize:p.fs,fontWeight:'normal',color:'#000'}});
 const tick={show:true,inside:true,length:14,lineStyle:{color:'#000',width:3},customValues:p.xstep};
 const labelVals=p.clip?p.xstep.concat([p.clip[0]]):p.xstep;
 const base={type:'value',gridIndex:i,min:p.xmin,max:p.xmax,axisLine,splitLine:{show:false}};
 xAxis.push({...base,position:'bottom',axisTick:tick,name:p.xname,nameLocation:'middle',nameGap:52,nameTextStyle:{fontFamily:FONT,fontSize:p.fs,color:'#000'},
  axisLabel:{customValues:labelVals,margin:15,fontFamily:FONT,fontSize:27,color:'#000',showMinLabel:true,showMaxLabel:true,hideOverlap:false,formatter:v=>p.clip&&v===p.clip[0]?p.clip[1]:String(v)}});
 xAxis.push({...base,position:'top',axisTick:tick,axisLabel:{show:false}});
 const ybase={type:'value',gridIndex:i,min:p.ymin,max:p.ymax,interval:p.yint,axisLine,splitLine:{show:false},axisTick:{show:true,inside:true,length:14,lineStyle:{color:'#000',width:3}}};
 yAxis.push({...ybase,position:'left',name:p.yname,nameLocation:'middle',nameGap:p.nameY,nameTextStyle:{fontFamily:FONT,fontSize:p.fs,color:'#000'},
  axisLabel:{margin:9,fontFamily:FONT,fontSize:27,color:'#000',showMinLabel:true,showMaxLabel:true}});
 yAxis.push({...ybase,position:'right',axisLabel:{show:false}});
 p.lines.forEach(([name,data,color])=>series.push({name,type:'line',data,xAxisIndex:i*2,yAxisIndex:i*2,symbol:'none',showSymbol:false,smooth:p.smooth,clip:true,animation:false,lineStyle:{color,width:p.lw},itemStyle:{color},emphasis:{disabled:true}}));
 if(p.peak) series.push({name:'peak '+i,type:'scatter',data:[p.peak],xAxisIndex:i*2,yAxisIndex:i*2,clip:false,animation:false,symbol:'path://M0 0L10 10M10 0L0 10',symbolSize:19,itemStyle:{color:'none',borderColor:RED,borderWidth:3},z:5});
 if(p.legend) legend.push({data:p.lines.map(l=>({name:l[0],icon:'rect',itemStyle:{color:l[2]}})),left:p.legend.left,top:p.legend.top,orient:'horizontal',itemWidth:90,itemHeight:3.5,itemGap:p.legend.gap,selectedMode:false,padding:[10,p.legend.pr,10,15],borderWidth:3,borderColor:'#000',backgroundColor:'#fff',z:10,textStyle:{fontFamily:FONT,fontSize:p.fs,color:'#000',padding:[0,0,0,5]}});
});
function outline(d){
 const t=d.match(/[MLCZ]|-?[\d.]+/g),pts=[];let i=0,cx=0,cy=0,cmd='';
 while(i<t.length){
  if(/[MLCZ]/.test(t[i])){cmd=t[i++];if(cmd==='Z')break;}
  if(cmd==='C'){const a=t.slice(i,i+6).map(Number);i+=6;
   for(let k=1;k<=14;k++){const u=k/14,v=1-u;pts.push([v*v*v*cx+3*v*v*u*a[0]+3*v*u*u*a[2]+u*u*u*a[4],v*v*v*cy+3*v*v*u*a[1]+3*v*u*u*a[3]+u*u*u*a[5]]);}
   cx=a[4];cy=a[5];
  }else{cx=+t[i++];cy=+t[i++];pts.push([cx,cy]);}
 }
 return pts;
}
const elements=[];
const rect=(x,y,w,h,fill,r)=>elements.push({type:'rect',z:0,silent:true,shape:{x,y,width:w,height:h,r:r||0},style:{fill}});
const text=(t,x,y,size,o={})=>elements.push({type:'text',z:1,silent:true,style:{text:t,x,y,fill:o.fill||'#000',font:(o.bold?'bold ':'')+size+'px '+FONT,textAlign:o.align||'left',textVerticalAlign:'middle',align:o.align||'left',verticalAlign:'middle'}});
rect(32,0,3419,3164,BAND,14);
rect(58,234,3365,2903,'#fff');
text('Results',1741,142,143,{fill:'#fff',bold:true,align:'center'});
text('Heart Rate',589,373,117.3,{bold:true});
text('Respiration Rate',2250,373,117.2,{bold:true});
elements.push({type:'polygon',z:1,silent:true,shape:{points:outline('M347,301 C344,284 332,270 310,270 L277,270 C252,274 239,300 239,323 C241,355 268,390 330,439 L365,439 C426,390 453,355 455,323 C455,300 442,274 417,270 L384,270 C362,270 350,284 347,301 Z')},style:{fill:ORGAN}});
const lungs=[
 {type:'polygon',shape:{points:outline('M355,150 L395,150 C410,155 420,180 420,210 C422,240 430,265 437,290 C442,350 440,430 437,510 C430,570 400,605 350,635 C325,650 300,665 280,677 L157,677 C153,640 157,590 165,510 C172,440 190,370 215,310 C235,265 265,225 320,170 C330,160 345,152 355,150 Z')},style:{fill:ORGAN}},
 {type:'polygon',shape:{points:outline('M520,150 L540,150 C560,158 590,190 620,225 C660,280 690,340 705,400 C725,480 738,570 737,677 L640,677 C600,665 560,655 530,625 C495,590 472,560 465,500 C460,420 458,350 462,280 C470,240 472,200 485,170 C492,158 505,150 520,150 Z')},style:{fill:ORGAN}}
];
const bronchi=[
 [20,[[448,292],[385,340],[350,400],[350,480],[365,520],[340,570]]],
 [14,[[350,402],[290,390],[248,365]]],[13,[[295,395],[215,393]]],[12,[[270,402],[222,425]]],[13,[[275,410],[242,465]]],
 [14,[[378,328],[342,290],[325,282]]],[12,[[348,298],[358,272]]],
 [15,[[330,420],[262,510],[215,525]]],[13,[[260,510],[260,548]]],[14,[[345,510],[312,540]]],
 [18,[[452,292],[490,325],[530,390],[530,430],[610,530]]],[20,[[492,338],[565,300]]],
 [13,[[530,405],[605,425],[652,395]]],[10,[[605,425],[657,435]]],[13,[[608,430],[638,490]]],[10,[[622,430],[655,455]]],
 [14,[[532,440],[510,490],[508,537]]],[12,[[525,480],[545,535]]],[10,[[610,530],[600,558]]],[10,[[610,530],[635,542]]]
];
bronchi.forEach(([w,pts])=>lungs.push({type:'polyline',shape:{points:pts},style:{stroke:'#fff',lineWidth:w,fill:null}}));
elements.push({type:'group',z:1,silent:true,x:1881,y:220,scaleX:1/3,scaleY:1/3,children:lungs});
const table=(cfg,rows)=>{
 cfg.rules.forEach(([x0,x1,y])=>rect(x0,y-3.5,x1-x0,7,'#000'));
 headers.forEach((h,i)=>text(h,cfg.headX[i],cfg.headY,65,{align:'center'}));
 sensors.forEach((s,r)=>{text(s,cfg.nameX,cfg.rowY[r],65);rows[r].forEach((v,c)=>text(v,cfg.valX[c],cfg.rowY[r],65,{align:'center'}));});
};
table({rules:[[199,1680,2357],[199,1680,2369],[199,1680,2550],[193,1680,2875],[193,1680,2886]],headX:[458,800,1035,1300,1563],headY:2461,nameX:241,rowY:[2592,2665,2738,2811],valX:[806,1038,1302,1566]},hrRows);
table({rules:[[1838,3328,2353],[1838,3328,2365],[1838,3328,2547],[1832,3328,2873],[1832,3328,2884]],headX:[2098,2443,2679,2946,3212],headY:2458,nameX:1880,rowY:[2588,2662,2735,2809],valX:[2449,2681,2948,3214]},rrRows);
footnotes.forEach((t,i)=>text(t,195,2997+i*76,64));
citation.forEach((t,i)=>text(t,65,3246+i*102,85.2));

const chart=echarts.init(document.getElementById('c'),null,{renderer:'canvas',width:3459,height:3493});
chart.setOption({animation:false,backgroundColor:'#fff',textStyle:{fontFamily:FONT},title,grid,xAxis,yAxis,legend,series,graphic:{elements}});
</script></body></html>
